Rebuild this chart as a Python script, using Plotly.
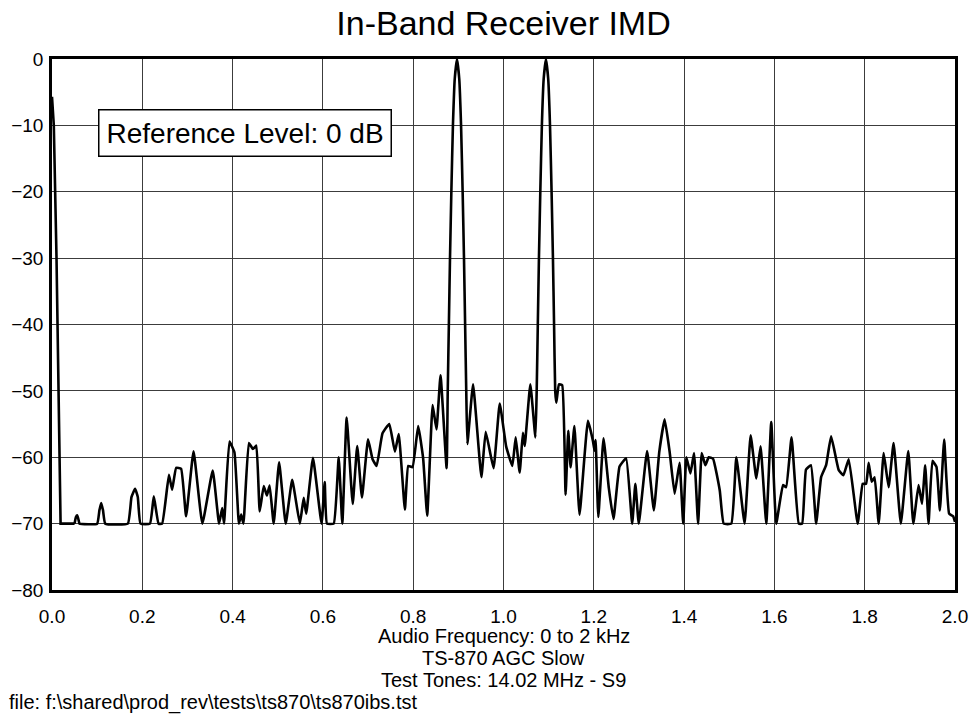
import plotly.graph_objects as go

# Low-frequency edge of the spectrum (kHz, dB)
edge_freq_khz = [0.0, 0.004, 0.010, 0.015, 0.019, 0.050]
edge_level_db = [-5.7, -10, -30, -50, -70, -70]

# Rest of the spectrum trace (audio frequency in kHz, level in dB)
freq_khz = [
    0.050, 0.053, 0.056, 0.059, 0.061,
    0.100, 0.105, 0.109, 0.113, 0.118,
    0.168, 0.176, 0.184, 0.190, 0.196,
    0.217, 0.2255, 0.236, 0.244,
    0.259, 0.266, 0.275, 0.286, 0.297, 0.3135, 0.333, 0.356, 0.370, 0.377,
    0.381, 0.393, 0.404, 0.414, 0.419, 0.424, 0.436, 0.445, 0.4525, 0.460,
    0.469, 0.476, 0.482, 0.491, 0.503, 0.5176, 0.532, 0.549, 0.5575, 0.563,
    0.578, 0.597, 0.604, 0.609, 0.624, 0.635, 0.643, 0.6526, 0.666, 0.676,
    0.6865, 0.700, 0.710, 0.719, 0.732, 0.747, 0.7595, 0.768, 0.7816, 0.789,
    0.7985, 0.811, 0.822, 0.831, 0.843, 0.8516, 0.8605, 0.874,
    0.8765, 0.879, 0.8815, 0.8845, 0.888, 0.892, 0.897, 0.902, 0.906, 0.9095,
    0.9125, 0.915, 0.9175,
    0.920, 0.9326, 0.951, 0.9606, 0.978, 0.9916, 1.006, 1.0196, 1.027, 1.0358,
    1.043, 1.047, 1.0594, 1.0707,
    1.0735, 1.076, 1.0785, 1.0815, 1.085, 1.089, 1.094, 1.099, 1.103, 1.1065,
    1.1095, 1.112, 1.1145,
    1.117, 1.1228, 1.130, 1.1375, 1.1434, 1.1486, 1.157, 1.1684, 1.187, 1.198,
    1.2016, 1.204, 1.210, 1.2215, 1.2333, 1.2436, 1.257, 1.2716, 1.285, 1.292,
    1.2996, 1.318, 1.333, 1.345, 1.357, 1.368, 1.379, 1.390, 1.398, 1.405,
    1.414, 1.422, 1.431, 1.439, 1.447, 1.4545, 1.464, 1.479, 1.4877, 1.5046,
    1.5157, 1.534, 1.5473, 1.560, 1.5694, 1.582, 1.593, 1.604, 1.619, 1.626,
    1.638, 1.654, 1.6615, 1.670, 1.681, 1.6925, 1.7035, 1.7145, 1.7256, 1.7425,
    1.7529, 1.7646, 1.7845, 1.7956, 1.803, 1.8088, 1.8155, 1.822, 1.831, 1.842,
    1.853, 1.864, 1.880, 1.8965, 1.9076, 1.9193, 1.927, 1.934, 1.9414, 1.950,
    1.959, 1.9665, 1.976, 1.987, 1.996, 2.0,
]
level_db = [
    -70, -69, -68.75, -69.5, -70,
    -70, -68, -66.9, -68, -70,
    -70, -66, -64.75, -66, -70,
    -70, -65.9, -70, -70,
    -62.65, -64.9, -61.6, -61.75, -68.9, -59.1, -70, -62, -70, -67.65,
    -70, -57.65, -59.25, -70, -68.65, -70, -57.85, -58.75, -58.25, -68.15,
    -64.35, -65.75, -64.25, -70, -60.75, -70, -63.4, -70, -66.1, -68.5,
    -60.1, -70, -63.75, -70, -70, -60, -70, -54, -67.05, -58.3,
    -66.05, -57.3, -60.3, -61.3, -56.4, -55, -59.15, -56.5, -67.9, -61.3,
    -61.5, -55.3, -60.15, -68.8, -52.15, -55.8, -47.65, -61.65,
    -50, -40, -30, -20, -10, -3, 0, -3, -10, -20,
    -30, -40, -50,
    -58, -49, -63, -56.15, -61.65, -51.9, -58.4, -61.3, -57, -62.3,
    -56.3, -58.3, -49, -57,
    -50, -40, -30, -20, -10, -3, 0, -3, -10, -20,
    -30, -40, -50,
    -51.8, -49, -49.15, -65.65, -56, -61.5, -55.3, -68.65, -54.5, -57.5,
    -59, -57.4, -69, -57.15, -64.65, -69.3, -61.4, -60.15, -70, -64,
    -70, -59.05, -68, -59.2, -54.3, -59.2, -65.5, -60.85, -70, -60,
    -62.45, -59.35, -70, -59.35, -61.2, -60, -60.2, -65, -70, -70,
    -60, -70, -56.7, -63.2, -58.35, -70, -54.7, -70, -64.2, -64.5,
    -57, -70, -70, -61.85, -61.2, -70, -63, -61.2, -56.85, -61.95,
    -62.7, -60.3, -70, -64, -64, -60.85, -63.7, -63, -70, -59.35,
    -64.5, -57.85, -70, -59.05, -70, -64.2, -67, -61.2, -70, -60.55,
    -61.45, -68, -57.35, -68.5, -68.9, -69.75,
]

x_tick_vals = [0.0, 0.2, 0.4, 0.6, 0.8, 1.0, 1.2, 1.4, 1.6, 1.8, 2.0]
x_tick_text = ["0.0", "0.2", "0.4", "0.6", "0.8", "1.0", "1.2", "1.4", "1.6", "1.8", "2.0"]
y_tick_vals = [0, -10, -20, -30, -40, -50, -60, -70, -80]
y_tick_text = ["0", "\u221210", "\u221220", "\u221230", "\u221240", "\u221250", "\u221260", "\u221270", "\u221280"]

title_text = "In-Band Receiver IMD"
ref_label = "Reference Level: 0 dB"
ref_pos = (0.427, -11.1)
footer_lines = ["Audio Frequency: 0 to 2 kHz", "TS-870 AGC Slow", "Test Tones: 14.02 MHz - S9"]
file_line = "file: f:\\shared\\prod_rev\\tests\\ts870\\ts870ibs.tst"

FONT = "Liberation Sans, Arial, Helvetica, sans-serif"

fig = go.Figure()
fig.add_trace(go.Scatter(
    x=edge_freq_khz, y=edge_level_db, mode="lines",
    line=dict(color="black", width=2.6),
    hoverinfo="skip", showlegend=False,
))
fig.add_trace(go.Scatter(
    x=freq_khz, y=level_db, mode="lines",
    line=dict(color="black", width=2.6, shape="spline", smoothing=0.35),
    hoverinfo="skip", showlegend=False,
))

axis_common = dict(
    showline=True, linecolor="black", linewidth=2.5, mirror=True,
    showgrid=True, gridcolor="#3c3c3c", gridwidth=1,
    zeroline=False, ticks="", automargin=False,
    tickfont=dict(family=FONT, size=19, color="black"),
)
fig.update_xaxes(range=[0, 2], tickvals=x_tick_vals, ticktext=x_tick_text,
                 ticklabelstandoff=7, **axis_common)
fig.update_yaxes(range=[-80, 0], tickvals=y_tick_vals, ticktext=y_tick_text,
                 ticklabelstandoff=2, **axis_common)

annotations = [
    dict(x=ref_pos[0], y=ref_pos[1], xref="x", yref="y", text=ref_label, showarrow=False,
         font=dict(family=FONT, size=28, color="black"), bgcolor="white",
         bordercolor="black", borderwidth=1.5, borderpad=7),
]
for i, line in enumerate(footer_lines):
    annotations.append(dict(
        x=0.5, y=0, xref="paper", yref="paper", xanchor="center", yanchor="middle",
        yshift=-(46 + 22 * i), text=line, showarrow=False,
        font=dict(family=FONT, size=20, color="black"),
    ))
annotations.append(dict(
    x=0, y=0, xref="paper", yref="paper", xanchor="left", yanchor="middle",
    xshift=-45, yshift=-(46 + 22 * 3), text=file_line, showarrow=False,
    font=dict(family=FONT, size=20, color="black"),
))

fig.update_layout(
    width=973, height=723,
    margin=dict(l=52, r=18, t=59, b=133),
    paper_bgcolor="white", plot_bgcolor="white",
    title=dict(text=title_text, x=0.5175, xanchor="center", y=1 - 23 / 723, yanchor="middle",
               yref="container", automargin=False,
               font=dict(family=FONT, size=34, color="black")),
    annotations=annotations,
)

# Remove the default page margin so the figure fills the 973x723 window exactly.
fig.write_html("out.html", config={"displayModeBar": False},
               post_script="document.body.style.margin='0';")
